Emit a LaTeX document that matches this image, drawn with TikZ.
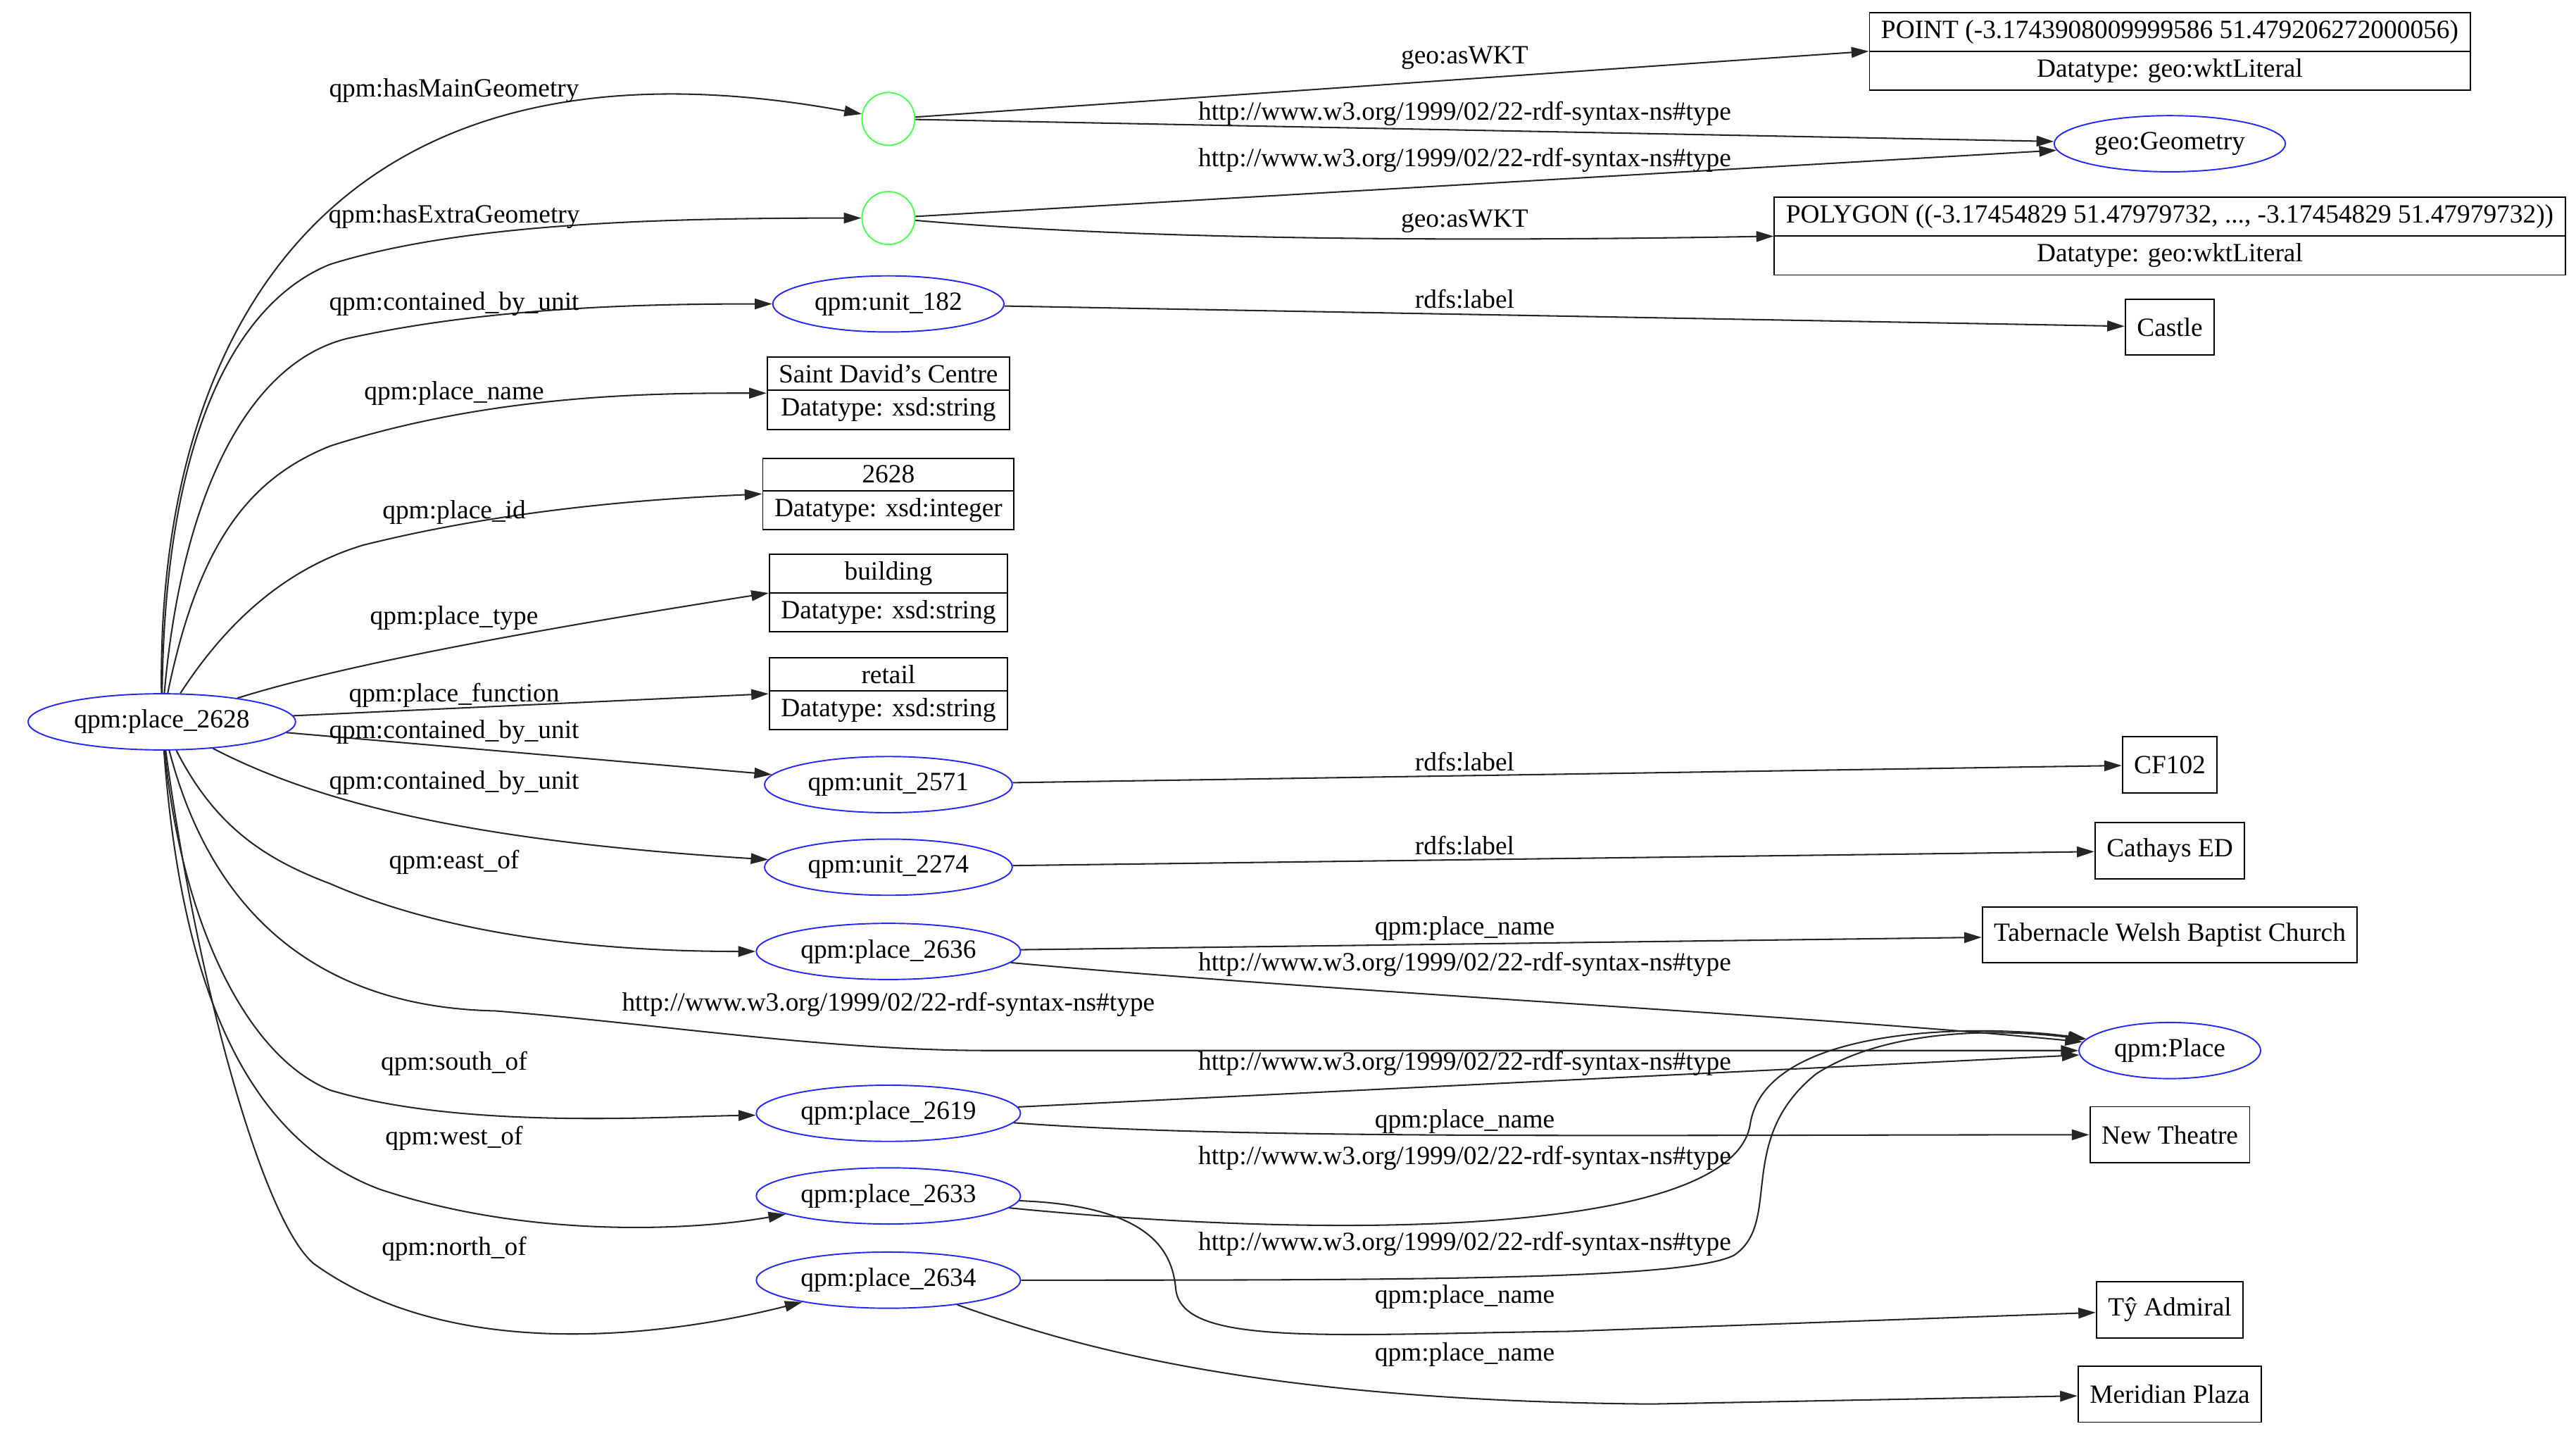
\documentclass[tikz,border=0pt]{standalone}
\usepackage{fontspec}
\setmainfont{Liberation Serif}
\usetikzlibrary{arrows.meta,shapes.geometric,shapes.multipart}
\begin{document}
\begin{tikzpicture}[x=0.03cm,y=-0.03cm,font=\fontsize{13.6}{15}\selectfont,
  ell/.style={ellipse, draw=blue!85, line width=0.7pt, minimum height=34*0.03cm, inner sep=1pt},
  blank/.style={circle, draw=green!70, line width=0.7pt, minimum size=32*0.03cm, inner sep=0pt},
  rec/.style={rectangle split, rectangle split parts=2, draw, line width=0.7pt, inner xsep=6pt, inner ysep=3.5pt},
  box/.style={rectangle, draw, line width=0.7pt, inner xsep=6pt, minimum height=34*0.03cm},
  e/.style={draw=black!85, line width=0.75pt, -{Triangle[length=9pt,width=5.5pt]}},
  lbl/.style={inner sep=1pt}]
\useasboundingbox (0,0) rectangle (1560,866);

% left and middle column
\node[ell, minimum width=162*0.03cm] (p2628) at (98,437) {qpm:place\_2628};
\node[blank] (b1) at (538,72) {};
\node[blank] (b2) at (538,132) {};
\node[ell, minimum width=140*0.03cm] (u182) at (538,184) {qpm:unit\_182};
\node[rec] (name) at (538,238) {Saint David's Centre\nodepart{two}Datatype: xsd:string};
\node[rec] (pid) at (538,299) {2628\nodepart{two}Datatype: xsd:integer};
\node[rec] (ptype) at (538,359) {building\nodepart{two}Datatype: xsd:string};
\node[rec] (pfun) at (538,420) {retail\nodepart{two}Datatype: xsd:string};
\node[ell, minimum width=150*0.03cm] (u2571) at (538,475) {qpm:unit\_2571};
\node[ell, minimum width=150*0.03cm] (u2274) at (538,525) {qpm:unit\_2274};
\node[ell, minimum width=160*0.03cm] (p2636) at (538,576) {qpm:place\_2636};
\node[ell, minimum width=160*0.03cm] (p2619) at (538,674) {qpm:place\_2619};
\node[ell, minimum width=160*0.03cm] (p2633) at (538,724) {qpm:place\_2633};
\node[ell, minimum width=160*0.03cm] (p2634) at (538,775) {qpm:place\_2634};

% right column
\node[rec] (point) at (1314,31) {POINT (-3.1743908009999586 51.479206272000056)\nodepart{two}Datatype: geo:wktLiteral};
\node[ell, minimum width=140*0.03cm] (geom) at (1314,87) {geo:Geometry};
\node[rec] (poly) at (1314,143) {POLYGON ((-3.17454829 51.47979732, ..., -3.17454829 51.47979732))\nodepart{two}Datatype: geo:wktLiteral};
\node[box] (castle) at (1314,198) {Castle};
\node[box] (cf) at (1314,463) {CF102};
\node[box] (cathays) at (1314,515) {Cathays ED};
\node[box] (tab) at (1314,566) {Tabernacle Welsh Baptist Church};
\node[ell, minimum width=110*0.03cm] (place) at (1314,636) {qpm:Place};
\node[box] (newt) at (1314,687) {New Theatre};
\node[box] (ty) at (1314,793) {Tŷ Admiral};
\node[box] (mer) at (1314,844) {Meridian Plaza};

% edges from qpm:place_2628
\draw[e] (p2628) .. controls (95,200) and (200,10) .. (b1);
\draw[e] (p2628) .. controls (100,250) and (150,180) .. (200,160) .. controls (280,135) and (400,132) .. (b2);
\draw[e] (p2628) .. controls (110,300) and (150,220) .. (210,205) .. controls (300,185) and (400,184) .. (u182);
\draw[e] (p2628) .. controls (120,330) and (150,290) .. (200,270) .. controls (300,238) and (400,238) .. (name.west);
\draw[e] (p2628) .. controls (135,380) and (170,345) .. (220,330) .. controls (320,305) and (420,301) .. (pid.west);
\draw[e] (p2628) .. controls (200,405) and (300,385) .. (ptype.west);
\draw[e] (p2628) -- (pfun.west);
\draw[e] (p2628) -- (u2571);
\draw[e] (p2628) .. controls (200,490) and (300,510) .. (u2274);
\draw[e] (p2628) .. controls (130,500) and (160,520) .. (200,535) .. controls (280,570) and (380,576) .. (p2636);
\draw[e] (p2628) .. controls (130,560) and (200,610) .. (300,612) .. controls (400,620) and (500,636) .. (600,636) -- (place);
\draw[e] (p2628) .. controls (110,560) and (150,640) .. (200,660) .. controls (280,684) and (400,676) .. (p2619);
\draw[e] (p2628) .. controls (110,600) and (150,690) .. (230,720) .. controls (320,750) and (420,745) .. (p2633);
\draw[e] (p2628) .. controls (120,600) and (160,740) .. (190,765) .. controls (280,830) and (420,805) .. (p2634);

% edge labels, left
\node[lbl] (l1) at (275,55) {qpm:hasMainGeometry};
\node[lbl] (l2) at (275,131) {qpm:hasExtraGeometry};
\node[lbl] (l3) at (275,184) {qpm:contained\_by\_unit};
\node[lbl] (l4) at (275,238) {qpm:place\_name};
\node[lbl] (l5) at (275,310) {qpm:place\_id};
\node[lbl] (l6) at (275,374) {qpm:place\_type};
\node[lbl] (l7) at (275,421) {qpm:place\_function};
\node[lbl] (l8) at (275,443) {qpm:contained\_by\_unit};
\node[lbl] (l9) at (275,474) {qpm:contained\_by\_unit};
\node[lbl] (l10) at (275,522) {qpm:east\_of};
\node[lbl] (l11) at (538,608) {http://www.w3.org/1999/02/22-rdf-syntax-ns\#type};
\node[lbl] (l12) at (275,644) {qpm:south\_of};
\node[lbl] (l13) at (275,689) {qpm:west\_of};
\node[lbl] (l14) at (275,756) {qpm:north\_of};

% edges on the right
\draw[e] (b1) -- (point.west);
\draw[e] (b1) -- (geom);
\draw[e] (b2) -- (geom);
\draw[e] (b2) .. controls (700,146) and (900,146) .. (poly.west);
\draw[e] (u182) -- (castle);
\draw[e] (u2571) -- (cf);
\draw[e] (u2274) -- (cathays);
\draw[e] (p2636) -- (tab);
\draw[e] (p2636) .. controls (800,600) and (1100,615) .. (place);
\draw[e] (p2619) -- (place);
\draw[e] (p2619) .. controls (750,690) and (1000,687) .. (newt);
\draw[e] (p2633) .. controls (800,750) and (1050,750) .. (1060,680) .. controls (1070,620) and (1200,620) .. (place);
\draw[e] (p2634) .. controls (850,775) and (1020,775) .. (1050,760) .. controls (1080,740) and (1050,690) .. (1100,650) .. controls (1150,618) and (1230,625) .. (place);
\draw[e] (p2633) .. controls (700,730) and (710,760) .. (712,780) .. controls (715,815) and (800,808) .. (950,806) -- (ty);
\draw[e] (p2634) .. controls (650,815) and (760,848) .. (1000,850) -- (mer);

% edge labels, right
\node[lbl] (r1) at (887,35) {geo:asWKT};
\node[lbl] (r2) at (887,69) {http://www.w3.org/1999/02/22-rdf-syntax-ns\#type};
\node[lbl] (r3) at (887,97) {http://www.w3.org/1999/02/22-rdf-syntax-ns\#type};
\node[lbl] (r4) at (887,134) {geo:asWKT};
\node[lbl] (r5) at (887,181) {rdfs:label};
\node[lbl] (r6) at (887,461) {rdfs:label};
\node[lbl] (r7) at (887,512) {rdfs:label};
\node[lbl] (r8) at (887,562) {qpm:place\_name};
\node[lbl] (r9) at (887,584) {http://www.w3.org/1999/02/22-rdf-syntax-ns\#type};
\node[lbl] (r10) at (887,644) {http://www.w3.org/1999/02/22-rdf-syntax-ns\#type};
\node[lbl] (r11) at (887,679) {qpm:place\_name};
\node[lbl] (r12) at (887,701) {http://www.w3.org/1999/02/22-rdf-syntax-ns\#type};
\node[lbl] (r13) at (887,753) {http://www.w3.org/1999/02/22-rdf-syntax-ns\#type};
\node[lbl] (r14) at (887,785) {qpm:place\_name};
\node[lbl] (r15) at (887,820) {qpm:place\_name};
\end{tikzpicture}
\end{document}
